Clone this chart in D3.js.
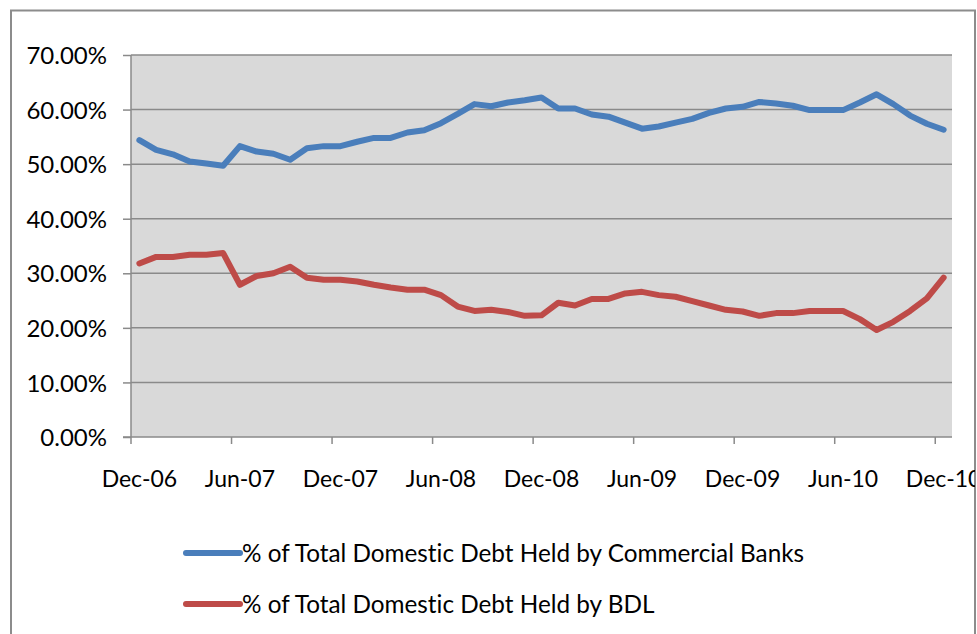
<!DOCTYPE html>
<html>
<head>
<meta charset="utf-8">
<script src="https://cdn.jsdelivr.net/npm/d3@7"></script>
<style>
  body { margin: 0; background: #fff; }
  text { font-family: Lato, "Open Sans", sans-serif; fill: #000; font-variant-ligatures: none; }
</style>
</head>
<body>
<script>
// monthly, Dec-06 .. Dec-10 (49 points)
var banks = [54.4, 52.6, 51.8, 50.5, 50.1, 49.7, 53.3, 52.3, 51.9, 50.8,
             52.9, 53.3, 53.3, 54.1, 54.8, 54.8, 55.8, 56.2, 57.5, 59.2,
             61.0, 60.6, 61.3, 61.7, 62.2, 60.2, 60.2, 59.1, 58.7, 57.6,
             56.5, 56.9, 57.6, 58.3, 59.4, 60.2, 60.5, 61.4, 61.1, 60.7,
             59.9, 59.9, 59.9, 61.3, 62.8, 61.0, 58.9, 57.4, 56.3];
var bdl = [31.8, 33.0, 33.0, 33.4, 33.4, 33.7, 27.9, 29.5, 30.0, 31.2,
           29.2, 28.8, 28.8, 28.5, 27.9, 27.4, 27.0, 27.0, 26.0, 23.9,
           23.1, 23.3, 22.9, 22.2, 22.3, 24.6, 24.1, 25.3, 25.3, 26.3,
           26.6, 26.0, 25.7, 24.9, 24.1, 23.3, 23.0, 22.2, 22.7, 22.7,
           23.1, 23.1, 23.1, 21.6, 19.6, 21.1, 23.1, 25.4, 29.2];
var seriesNames = ["% of Total Domestic Debt Held by Commercial Banks",
                   "% of Total Domestic Debt Held by BDL"];
var colors = ["#4a7ebb", "#be4b48"];
var yTicks = [0, 10, 20, 30, 40, 50, 60, 70];

var months = d3.timeMonth.range(new Date(2006, 11, 1), new Date(2011, 0, 1));
var fmt = d3.timeFormat("%b-%y");
var cats = months.map(fmt);

var w = 977, h = 634;
var svg = d3.select("body").append("svg").attr("width", w).attr("height", h);

svg.append("defs").append("clipPath").attr("id", "frame")
    .append("rect").attr("x", 11).attr("y", 10).attr("width", 964).attr("height", 640);

// outer chart border
svg.append("rect")
    .attr("x", 11).attr("y", 10.5).attr("width", 964).attr("height", 640)
    .attr("fill", "#fff").attr("stroke", "#8c8c8c").attr("stroke-width", 2);

var pLeft = 131, pRight = 952, pTop = 55, pBottom = 437;

var x = d3.scaleBand().domain(cats).range([pLeft, pRight]);
var y = d3.scaleLinear().domain([0, 70]).range([pBottom, pTop]);

var g = svg.append("g").attr("clip-path", "url(#frame)");

g.append("rect")
    .attr("x", pLeft).attr("y", pTop)
    .attr("width", pRight - pLeft).attr("height", pBottom - pTop)
    .attr("fill", "#d9d9d9");

// gridlines
g.selectAll(".grid").data(yTicks.slice(1)).enter().append("line")
    .attr("x1", pLeft).attr("x2", pRight)
    .attr("y1", function(d) { return y(d); })
    .attr("y2", function(d) { return y(d); })
    .attr("stroke", "#8a8a8a").attr("stroke-width", 1.5);

// y axis
var yAxis = g.append("g").attr("transform", "translate(" + pLeft + ",0)")
    .call(d3.axisLeft(y).tickValues(yTicks).tickSize(8).tickPadding(16)
        .tickFormat(function(d) { return d.toFixed(2) + "%"; }));
yAxis.select(".domain").attr("stroke", "#8a8a8a").attr("stroke-width", 1.5).attr("d", "M0," + pTop + "V" + pBottom);
yAxis.selectAll(".tick line").attr("stroke", "#8a8a8a").attr("stroke-width", 1.5);
yAxis.selectAll("text").style("font-size", "24px").attr("dy", "0.36em");

// x axis: ticks at category boundaries every 6 months, labels at centre
var xg = g.append("g");
xg.append("line").attr("x1", pLeft - 8).attr("x2", pRight)
    .attr("y1", pBottom).attr("y2", pBottom)
    .attr("stroke", "#8a8a8a").attr("stroke-width", 1.5);
var shown = cats.filter(function(d, i) { return i % 6 == 0; });
xg.selectAll(".xt").data(shown).enter().append("line")
    .attr("x1", function(d) { return x(d); })
    .attr("x2", function(d) { return x(d); })
    .attr("y1", pBottom).attr("y2", pBottom + 7)
    .attr("stroke", "#8a8a8a").attr("stroke-width", 1.5);
xg.selectAll(".xl").data(shown).enter().append("text")
    .attr("x", function(d) { return x(d) + x.bandwidth() / 2; })
    .attr("y", 487)
    .attr("text-anchor", "middle")
    .style("font-size", "23px")
    .text(function(d) { return d; });

// lines
var line = d3.line()
    .x(function(d, i) { return x(cats[i]) + x.bandwidth() / 2; })
    .y(function(d) { return y(d); });

[banks, bdl].forEach(function(s, k) {
    g.append("path").datum(s)
        .attr("d", line)
        .attr("fill", "none")
        .attr("stroke", colors[k])
        .attr("stroke-width", 6)
        .attr("stroke-linejoin", "round")
        .attr("stroke-linecap", "round");
});

// legend
var leg = g.selectAll(".leg").data(seriesNames).enter().append("g")
    .attr("transform", function(d, i) { return "translate(186," + (553 + i * 51) + ")"; });
leg.append("line").attr("x1", 0).attr("x2", 54)
    .attr("stroke", function(d, i) { return colors[i]; })
    .attr("stroke-width", 6).attr("stroke-linecap", "round");
leg.append("text").attr("x", 56).attr("dy", "0.35em")
    .style("font-size", "24.3px")
    .text(function(d) { return d; });
</script>
</body>
</html>
